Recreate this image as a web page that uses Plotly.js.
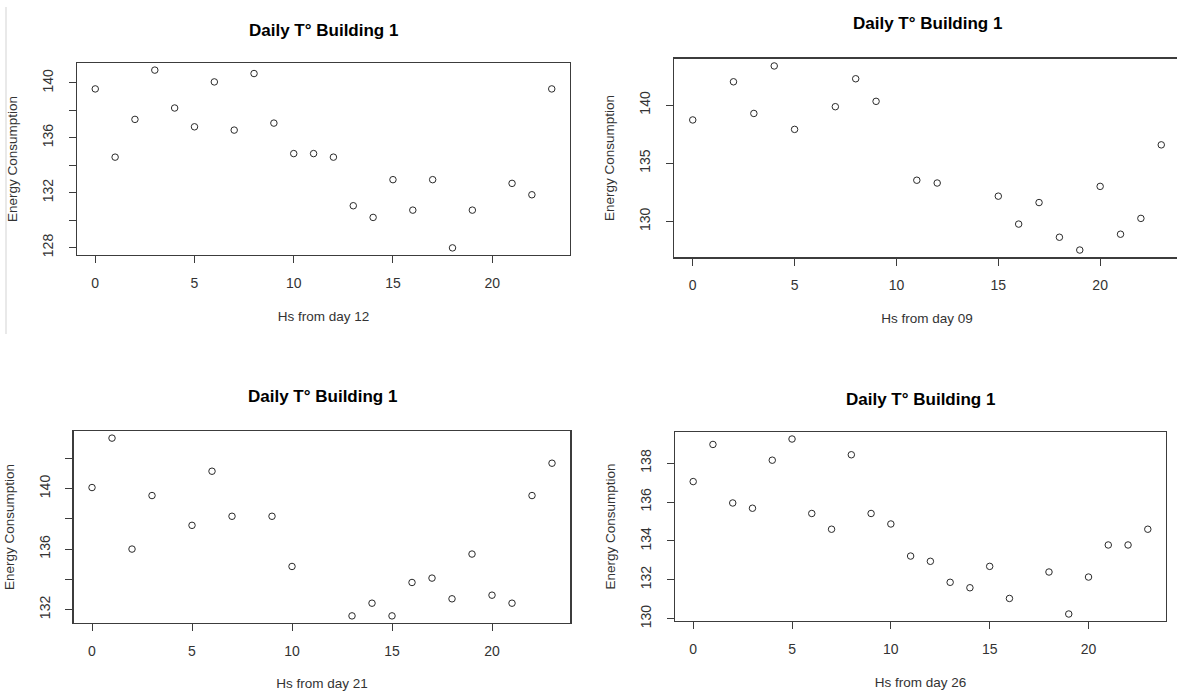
<!DOCTYPE html>
<html>
<head>
<meta charset="utf-8">
<script src="https://cdn.plot.ly/plotly-3.0.1.min.js"></script>
<style>
html, body { margin: 0; padding: 0; overflow: hidden; background: #fff; }
#chart { width: 1200px; height: 691px; }
</style>
</head>
<body>
<div id="chart"></div>
<script>
// ---------- data ----------
const chartTitle = "Daily T° Building 1";
const yLabel = "Energy Consumption";

const hoursDay12 = [0,1,2,3,4,5,6,7,8,9,10,11,12,13,14,15,16,17,18,19,21,22,23];
const energyDay12 = [139.56,134.59,137.34,140.93,138.17,136.80,140.07,136.56,140.68,137.07,134.85,134.85,134.59,131.05,130.20,132.95,130.73,132.95,127.98,130.73,132.68,131.85,139.56];

const hoursDay09 = [0,2,3,4,5,7,8,9,11,12,15,16,17,18,19,20,21,22,23];
const energyDay09 = [138.72,142.00,139.28,143.36,137.91,139.86,142.26,140.32,133.54,133.30,132.17,129.77,131.62,128.64,127.54,133.01,128.90,130.26,136.58];

const hoursDay21 = [0,1,2,3,5,6,7,9,10,13,14,15,16,17,18,19,20,21,22,23];
const energyDay21 = [140.07,143.34,136.00,139.54,137.57,141.15,138.17,138.17,134.85,131.58,132.42,131.58,133.79,134.08,132.71,135.67,132.95,132.42,139.54,141.68];

const hoursDay26 = [0,1,2,3,4,5,6,7,8,9,10,11,12,13,14,15,16,18,19,20,21,22,23];
const energyDay26 = [137.05,138.96,135.95,135.68,138.15,139.24,135.41,134.60,138.43,135.41,134.87,133.22,132.95,131.87,131.59,132.69,131.04,132.40,130.24,132.14,133.79,133.79,134.60];

const xTickVals = [0,5,10,15,20];
const xTickText = ["0","5","10","15","20"];

const yTickVals12 = [128,130,132,134,136,138,140];
const yTickText12 = ["128","","132","","136","","140"];
const yTickVals09 = [130,135,140];
const yTickText09 = ["130","135","140"];
const yTickVals21 = [132,134,136,138,140,142];
const yTickText21 = ["132","","136","","140",""];
const yTickVals26 = [130,132,134,136,138];
const yTickText26 = ["130","132","134","136","138"];

const xTitles = ["Hs from day 12","Hs from day 09","Hs from day 21","Hs from day 26"];

// ---------- layout helpers ----------
const W = 1200, H = 691;
const FONT = "Liberation Sans, Arial, sans-serif";
const LINE = "#3c3c3c";
const TXT = "#333333";

function rRange(arr) {
  const mn = Math.min(...arr), mx = Math.max(...arr);
  const pad = 0.04 * (mx - mn);
  return [mn - pad, mx + pad];
}
function px(x) { return x / W; }
function py(y) { return 1 - y / H; }

// panel frames in pixels: [left, right, top, bottom]
const frames = [
  [77, 570, 63, 255],
  [674, 1180, 58.6, 257.4],
  [73.6, 570.4, 431, 623],
  [675, 1166, 432, 621]
];
const titleY = [30, 24, 397, 399];

const series = [
  [hoursDay12, energyDay12, yTickVals12, yTickText12],
  [hoursDay09, energyDay09, yTickVals09, yTickText09],
  [hoursDay21, energyDay21, yTickVals21, yTickText21],
  [hoursDay26, energyDay26, yTickVals26, yTickText26]
];

const data = [];
const layout = {
  width: W, height: H,
  margin: {l: 0, r: 0, t: 0, b: 0},
  paper_bgcolor: "#fff", plot_bgcolor: "#fff",
  showlegend: false,
  font: {family: FONT, size: 13.5, color: TXT},
  annotations: [],
  shapes: [{
    type: "line", xref: "paper", yref: "paper",
    x0: px(6), x1: px(6), y0: py(7), y1: py(334),
    line: {color: "#e2e2e2", width: 1.5}
  }]
};

series.forEach((s, i) => {
  const n = i + 1;
  const xa = n === 1 ? "x" : "x" + n;
  const ya = n === 1 ? "y" : "y" + n;
  data.push({
    type: "scatter", mode: "markers",
    x: s[0], y: s[1], xaxis: xa, yaxis: ya,
    marker: {symbol: "circle-open", size: 6.5, color: "#2a2a2a", line: {width: 1, color: "#2a2a2a"}},
    cliponaxis: false,
    hoverinfo: "x+y"
  });
  const f = frames[i];
  const common = {
    showgrid: false, zeroline: false,
    showline: true, mirror: true, linecolor: LINE, linewidth: 1.2,
    ticks: "outside", ticklen: 7, tickwidth: 1, tickcolor: LINE,
    tickfont: {family: FONT, size: 14, color: TXT},
    fixedrange: true
  };
  layout["xaxis" + (n === 1 ? "" : n)] = Object.assign({}, common, {
    domain: [px(f[0]), px(f[1])],
    anchor: ya,
    range: rRange([0, 23]),
    tickmode: "array", tickvals: xTickVals, ticktext: xTickText,
    ticklabelstandoff: 8,
    title: {text: xTitles[i], font: {family: FONT, size: 13.5, color: TXT}, standoff: 21}
  });
  layout["yaxis" + (n === 1 ? "" : n)] = Object.assign({}, common, {
    domain: [py(f[3]), py(f[2])],
    anchor: xa,
    range: rRange(s[1]),
    tickangle: -90,
    tickmode: "array", tickvals: s[2], ticktext: s[3],
    ticklabelstandoff: 10,
    title: {text: yLabel, font: {family: FONT, size: 13.5, color: TXT}, standoff: 19}
  });
  layout.annotations.push({
    xref: "paper", yref: "paper",
    x: px((f[0] + f[1]) / 2), y: py(titleY[i]),
    xanchor: "center", yanchor: "middle",
    text: chartTitle, showarrow: false,
    font: {family: FONT, size: 17, color: "#000", weight: "bold"}
  });
});

Plotly.newPlot("chart", data, layout, {displayModeBar: false, staticPlot: true});
</script>
</body>
</html>
